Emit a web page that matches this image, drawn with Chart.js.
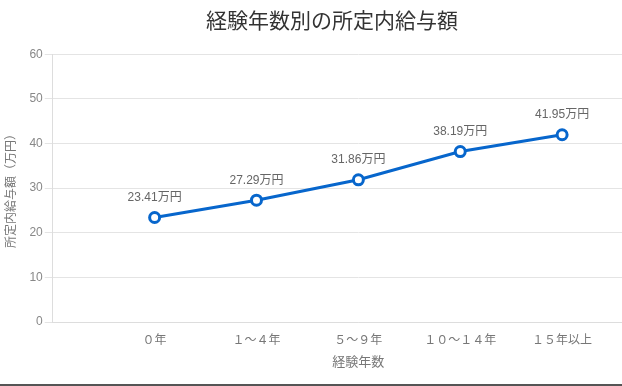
<!DOCTYPE html>
<html>
<head>
<meta charset="utf-8">
<script src="https://cdn.jsdelivr.net/npm/chart.js@4"></script>
<style>
  html, body { margin: 0; padding: 0; background: #fff; overflow: hidden; }
  #container { width: 672px; height: 384px; border-bottom: 2px solid #555; }
</style>
</head>
<body>
<div id="container"><canvas id="myChart"></canvas></div>
<script>
// categories (leading / trailing blanks keep the spacing of the original)
const categories = ['', '０年', '１～４年', '５～９年', '１０～１４年', '１５年以上', ''];
const salary = [null, 23.41, 27.29, 31.86, 38.19, 41.95, null];
const yTicks = [0, 10, 20, 30, 40, 50, 60];

const fontFamily = '"Liberation Sans", "Noto Sans CJK JP", sans-serif';

// value labels above each point
const valueLabels = {
    id: 'valueLabels',
    afterDatasetsDraw(chart) {
        const ctx = chart.ctx;
        const meta = chart.getDatasetMeta(0);
        ctx.save();
        ctx.font = '12px ' + fontFamily;
        ctx.fillStyle = '#666';
        ctx.textAlign = 'center';
        ctx.textBaseline = 'bottom';
        meta.data.forEach((pt, i) => {
            const v = salary[i];
            if (v === null) return;
            ctx.fillText(v.toFixed(2) + '万円', pt.x, pt.y - 14);
        });
        ctx.restore();
    }
};

const ctx = document.getElementById('myChart').getContext('2d');
const chart = new Chart(ctx, {
    type: 'line',
    data: {
        labels: categories,
        datasets: [{
            label: '所定内給与額',
            data: salary,
            borderColor: '#0766cc',
            backgroundColor: '#fff',
            borderWidth: 3,
            pointRadius: 5,
            pointBorderWidth: 3,
            pointBorderColor: '#0766cc',
            pointBackgroundColor: '#fff',
            tension: 0
        }]
    },
    options: {
        responsive: true,
        maintainAspectRatio: false,
        animation: false,
        layout: { padding: { left: 0, right: 8, top: 0, bottom: 10 } },
        plugins: {
            legend: { display: false },
            tooltip: { enabled: false },
            title: {
                display: true,
                text: '経験年数別の所定内給与額',
                color: '#333',
                font: { family: fontFamily, size: 21, weight: 'normal' },
                padding: { top: 10, bottom: 19 }
            }
        },
        scales: {
            x: {
                offset: false,
                grid: { display: false },
                border: { display: true, color: '#ddd' },
                ticks: {
                    color: '#777',
                    font: { family: fontFamily, size: 12 },
                    padding: 3,
                    autoSkip: false,
                    maxRotation: 0
                },
                title: {
                    display: true,
                    text: '経験年数',
                    color: '#777',
                    font: { family: fontFamily, size: 13 },
                    padding: { top: 4 }
                }
            },
            y: {
                min: yTicks[0],
                max: yTicks[yTicks.length - 1],
                grid: { color: '#e4e4e4', tickLength: 8 },
                border: { display: true, color: '#ddd' },
                ticks: {
                    stepSize: 10,
                    color: '#888',
                    font: { family: fontFamily, size: 12 },
                    padding: 2
                },
                title: {
                    display: true,
                    text: '所定内給与額（万円）',
                    color: '#777',
                    font: { family: fontFamily, size: 12 },
                    padding: { bottom: 9 }
                }
            }
        }
    },
    plugins: [valueLabels]
});
</script>
</body>
</html>
